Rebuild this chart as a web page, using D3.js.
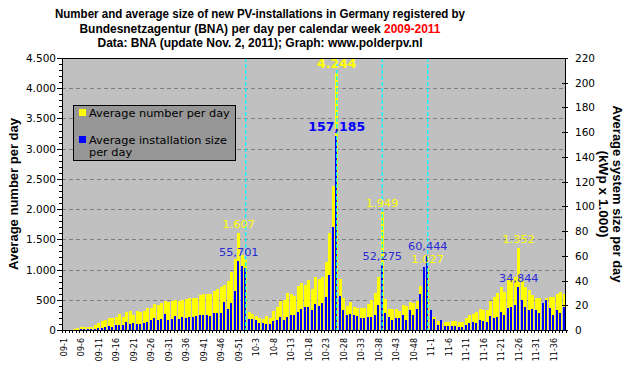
<!DOCTYPE html>
<html><head><meta charset="utf-8">
<script src="https://cdn.jsdelivr.net/npm/d3@7/dist/d3.min.js"></script>
<style>body{margin:0;background:#fff}svg{display:block}</style>
</head><body><svg id="c" width="631" height="371"></svg>
<script>
// ---------- DATA ----------
const weeks = [
"09-1","09-2","09-3","09-4","09-5","09-6","09-7","09-8","09-9","09-10","09-11","09-12","09-13","09-14","09-15","09-16","09-17","09-18","09-19","09-20","09-21","09-22","09-23","09-24","09-25","09-26","09-27","09-28","09-29","09-30","09-31","09-32","09-33","09-34","09-35","09-36","09-37","09-38","09-39","09-40","09-41","09-42","09-43","09-44","09-45","09-46","09-47","09-48","09-49","09-50","09-51","09-52","09-53",
"10-1","10-2","10-3","10-4","10-5","10-6","10-7","10-8","10-9","10-10","10-11","10-12","10-13","10-14","10-15","10-16","10-17","10-18","10-19","10-20","10-21","10-22","10-23","10-24","10-25","10-26","10-27","10-28","10-29","10-30","10-31","10-32","10-33","10-34","10-35","10-36","10-37","10-38","10-39","10-40","10-41","10-42","10-43","10-44","10-45","10-46","10-47","10-48","10-49","10-50","10-51","10-52",
"11-1","11-2","11-3","11-4","11-5","11-6","11-7","11-8","11-9","11-10","11-11","11-12","11-13","11-14","11-15","11-16","11-17","11-18","11-19","11-20","11-21","11-22","11-23","11-24","11-25","11-26","11-27","11-28","11-29","11-30","11-31","11-32","11-33","11-34","11-35","11-36","11-37","11-38","11-39"];

// Average number of new installations per day (left axis)
const numberPerDay = [
0,0,0,22,33,50,50,50,50,83,115,150,165,198,198,215,264,215,297,314,248,314,297,314,363,363,429,413,446,478,462,478,494,478,494,511,527,527,527,577,593,593,593,643,676,709,742,808,956,1170,1607,1236,1170,
297,264,231,198,181,231,198,313,379,478,494,610,593,560,725,775,742,824,676,874,841,874,1121,1599,2390,4244,841,527,396,461,379,363,363,363,429,494,610,874,1949,511,346,346,346,313,412,396,461,445,478,725,850,1027,
220,209,154,121,137,137,148,148,137,132,198,247,264,297,346,330,330,478,544,610,709,626,857,824,874,1352,808,709,659,577,527,527,445,527,544,544,593,626,593];

// Average installed size per day, kWp x 1.000 (right axis)
const sizePerDay = [
0,0,0,0,0,1,1,1,1.2,1.2,2,2,2.5,3.5,2.5,4,4,4,6.5,5,5.7,5,5,5.7,6.5,8,9.7,8,8.9,12.9,8.1,8.9,11.3,8.9,10.5,9.7,10.5,10.5,11.3,12.1,12.1,12.1,11.3,13.7,13.7,13.7,22.6,17,21.8,31.5,55.701,51.7,50.1,
8.9,8.9,8.1,5.6,5.6,4.8,4.8,7.3,8.1,10.5,8.1,10.5,12.1,12.1,14.5,16.9,18.5,18.5,16.2,21,19.4,21.8,26.7,44.4,83.2,157.185,27.5,16.2,12.1,12.9,12.1,11.3,9.7,9.7,10.5,10.5,12.1,20.2,52.275,13.7,10.5,8.1,9.7,9.7,12.1,8.1,16.2,12.1,16.9,29,50.6,60.444,
16.2,9.2,4.0,8.1,3.6,3.6,3.6,3.6,2.7,2.7,4.3,5.9,6.5,5.9,8.1,7.5,6.5,11.3,10,10.5,14.5,12.1,17.8,18.6,20.2,34.844,24.2,18.6,16.2,17,16.2,13.7,21.8,24.2,17.8,12.1,16.2,13.7,18.6];

const xTickLabels = ["09-1","09-6","09-11","09-16","09-21","09-26","09-31","09-36","09-41","09-46","09-51","10-3","10-8","10-13","10-18","10-23","10-28","10-33","10-38","10-43","10-48","11-1","11-6","11-11","11-16","11-21","11-26","11-31","11-36"];
const leftTicks = [0,500,1000,1500,2000,2500,3000,3500,4000,4500];
const rightTicks = [0,20,40,60,80,100,120,140,160,180,200,220];
const tariffWeeks = ["09-53","10-26","10-39","10-52"];
const labelledWeeks = ["09-51","10-26","10-39","10-52","11-26"];
const boldLabelWeeks = ["10-26"];

const titleLines = ["Number and average size of new PV-installations in Germany registered by",
  "Bundesnetzagentur (BNA) per day per calendar week ", "2009-2011",
  "Data: BNA (update Nov. 2, 2011); Graph: www.polderpv.nl"];
const seriesNames = ["Average number per day", "Average installation size", "per day"];

// ---------- CHART ----------
const nl = d3.formatLocale({decimal: ",", thousands: ".", grouping: [3], currency: ["", ""]});
const fmtInt = nl.format(",d"), fmt3 = nl.format(".3f");
const svg = d3.select("#c");
const L = 62, R = 566, T = 58, B = 330;
const x = d3.scaleBand().domain(weeks).range([L, R]).padding(0);
const yL = d3.scaleLinear().domain([0, 4500]).range([B, T]);
const yR = d3.scaleLinear().domain([0, 220]).range([B, T]);
const FONT = "'DejaVu Sans', Verdana, sans-serif";
const BFONT = "'Liberation Sans', Arial, sans-serif";

// title
const tg = svg.append("g").attr("font-family", BFONT).attr("font-weight", "bold").attr("font-size", 12).attr("text-anchor", "middle").attr("fill", "#000");
tg.append("text").attr("x", 260).attr("y", 18).attr("textLength", 410).attr("lengthAdjust", "spacingAndGlyphs").text(titleLines[0]);
const t2 = tg.append("text").attr("x", 260).attr("y", 32.5).attr("textLength", 361).attr("lengthAdjust", "spacingAndGlyphs");
t2.append("tspan").text(titleLines[1]);
t2.append("tspan").attr("fill", "#ff0000").text(titleLines[2]);
tg.append("text").attr("x", 260).attr("y", 46.5).attr("textLength", 325).attr("lengthAdjust", "spacingAndGlyphs").text(titleLines[3]);

// plot background
svg.append("rect").attr("x", L).attr("y", T).attr("width", R - L).attr("height", B - T).attr("fill", "#c0c0c0");

// gridlines
svg.append("g").selectAll("line").data(leftTicks.filter(d => d > 0 && d < 4500)).join("line")
  .attr("x1", L).attr("x2", R).attr("y1", d => Math.round(yL(d)) + 0.5).attr("y2", d => Math.round(yL(d)) + 0.5)
  .attr("stroke", "#808080").attr("stroke-dasharray", "4,3");

// bars
const bars = svg.append("g").attr("shape-rendering", "crispEdges");
bars.selectAll("rect.n").data(weeks).join("rect").attr("class", "n")
  .attr("x", d => x(d) + 0.25).attr("width", 2.75)
  .attr("y", (d, i) => yL(numberPerDay[i])).attr("height", (d, i) => B - yL(numberPerDay[i]))
  .attr("fill", "#ffff00");
bars.selectAll("rect.s").data(weeks).join("rect").attr("class", "s")
  .attr("x", d => x(d) + 0.25).attr("width", 2)
  .attr("y", (d, i) => yR(sizePerDay[i])).attr("height", (d, i) => B - yR(sizePerDay[i]))
  .attr("fill", "#0000ff");

// tariff cut lines
svg.append("g").selectAll("line").data(tariffWeeks).join("line")
  .attr("x1", d => x(d) + x.bandwidth() / 2).attr("x2", d => x(d) + x.bandwidth() / 2)
  .attr("y1", T).attr("y2", B)
  .attr("stroke", "#00ffff").attr("stroke-width", 1.3).attr("stroke-dasharray", "4,2");

// data labels
const lg = svg.append("g").attr("font-family", FONT).attr("font-size", 11.3).attr("text-anchor", "middle");
labelledWeeks.forEach(w => {
  const i = weeks.indexOf(w), cx = x(w) + x.bandwidth() / 2, bold = boldLabelWeeks.includes(w);
  lg.append("text").attr("x", cx).attr("y", yL(numberPerDay[i]) - 5).attr("fill", "#ffff00")
    .attr("font-weight", bold ? "bold" : null).attr("font-size", bold ? 12.5 : 11.3).text(fmtInt(numberPerDay[i]));
  lg.append("text").attr("x", cx).attr("y", yR(sizePerDay[i]) - 5).attr("fill", bold ? "#0000ff" : "#2a2ad6")
    .attr("font-weight", bold ? "bold" : null).attr("font-size", bold ? 12.5 : 11.3).text(fmt3(sizePerDay[i]));
});

// frame
svg.append("rect").attr("x", L + 0.5).attr("y", T + 0.5).attr("width", R - L - 1).attr("height", B - T).attr("fill", "none").attr("stroke", "#000");

// left axis
const ax = svg.append("g").attr("shape-rendering", "crispEdges").attr("stroke", "#000");
ax.selectAll("line.mn").data(yL.ticks(45)).join("line").attr("class", "mn")
  .attr("x1", L - 3).attr("x2", L).attr("y1", d => Math.round(yL(d)) + 0.5).attr("y2", d => Math.round(yL(d)) + 0.5);
ax.selectAll("line.mj").data(leftTicks).join("line").attr("class", "mj")
  .attr("x1", L - 5).attr("x2", L).attr("y1", d => Math.round(yL(d)) + 0.5).attr("y2", d => Math.round(yL(d)) + 0.5);
svg.append("g").attr("font-family", FONT).attr("font-size", 10.5).attr("text-anchor", "end").attr("fill", "#000")
  .selectAll("text").data(leftTicks).join("text").attr("x", 56).attr("y", d => yL(d) + 4).text(d => fmtInt(d));

// right axis
ax.selectAll("line.r").data(rightTicks).join("line").attr("class", "r")
  .attr("x1", R - 4).attr("x2", R + 2).attr("y1", d => Math.round(yR(d)) + 0.5).attr("y2", d => Math.round(yR(d)) + 0.5);
svg.append("g").attr("font-family", FONT).attr("font-size", 10.5).attr("text-anchor", "start").attr("fill", "#000")
  .selectAll("text").data(rightTicks).join("text").attr("x", 575).attr("y", d => yR(d) + 4).text(d => d);

// x axis ticks and labels
ax.selectAll("line.x").data(weeks.concat(["end"])).join("line").attr("class", "x")
  .attr("x1", (d, i) => L + i * x.bandwidth()).attr("x2", (d, i) => L + i * x.bandwidth())
  .attr("y1", B).attr("y2", B + 3);
svg.append("g").attr("font-family", FONT).attr("font-size", 8).attr("text-anchor", "end").attr("fill", "#000")
  .selectAll("text").data(xTickLabels).join("text")
  .attr("transform", d => `translate(${x(d) + x.bandwidth() / 2 + 3},${B + 8}) rotate(-90)`).text(d => d);

// axis titles
svg.append("text").attr("transform", `translate(18,${(T + B) / 2}) rotate(-90)`).attr("text-anchor", "middle")
  .attr("font-family", BFONT).attr("font-weight", "bold").attr("font-size", 12).attr("textLength", 152).attr("lengthAdjust", "spacingAndGlyphs")
  .text("Average number per day");
svg.append("text").attr("transform", `translate(613,${(T + B) / 2}) rotate(90)`).attr("text-anchor", "middle")
  .attr("font-family", BFONT).attr("font-weight", "bold").attr("font-size", 12).attr("textLength", 177).attr("lengthAdjust", "spacingAndGlyphs")
  .text("Average system size per day");
svg.append("text").attr("transform", `translate(598.5,${(T + B) / 2}) rotate(90)`).attr("text-anchor", "middle")
  .attr("font-family", BFONT).attr("font-weight", "bold").attr("font-size", 12).attr("textLength", 87).attr("lengthAdjust", "spacingAndGlyphs")
  .text("(kWp x 1.000)");

// legend
const leg = svg.append("g");
leg.append("rect").attr("x", 73.5).attr("y", 105.5).attr("width", 162).attr("height", 55).attr("fill", "#969696").attr("stroke", "#000");
leg.append("rect").attr("x", 79).attr("y", 109).attr("width", 7).attr("height", 7).attr("fill", "#ffff00");
leg.append("rect").attr("x", 79).attr("y", 136).attr("width", 7).attr("height", 7).attr("fill", "#0000ff");
const lt = leg.append("g").attr("font-family", FONT).attr("font-size", 11.3).attr("fill", "#000");
lt.append("text").attr("x", 89).attr("y", 116.5).text(seriesNames[0]);
lt.append("text").attr("x", 89).attr("y", 143.5).text(seriesNames[1]);
lt.append("text").attr("x", 89).attr("y", 155.5).text(seriesNames[2]);
</script></body></html>
